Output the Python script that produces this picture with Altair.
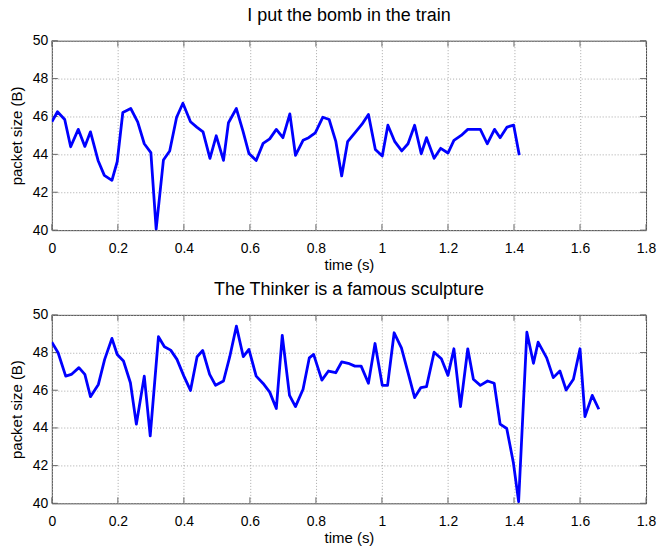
import altair as alt
import pandas as pd

# ---- data ----
top_t = [0.000, 0.017, 0.039, 0.057, 0.080, 0.100, 0.117, 0.140, 0.159, 0.182,
         0.198, 0.215, 0.239, 0.260, 0.280, 0.300, 0.316, 0.338, 0.357, 0.378,
         0.397, 0.420, 0.439, 0.458, 0.479, 0.498, 0.520, 0.535, 0.559, 0.579,
         0.597, 0.619, 0.640, 0.660, 0.680, 0.700, 0.721, 0.738, 0.761, 0.778,
         0.798, 0.821, 0.840, 0.860, 0.878, 0.896, 0.918, 0.939, 0.959, 0.980,
         1.001, 1.018, 1.039, 1.060, 1.079, 1.099, 1.119, 1.135, 1.158, 1.178,
         1.200, 1.218, 1.240, 1.260, 1.280, 1.298, 1.319, 1.341, 1.358, 1.379,
         1.399, 1.416]
top_v = [45.72, 46.25, 45.84, 44.40, 45.32, 44.42, 45.19, 43.68, 42.89, 42.63,
         43.61, 46.21, 46.42, 45.72, 44.56, 44.09, 40.05, 43.70, 44.18, 45.96,
         46.70, 45.72, 45.44, 45.19, 43.79, 44.98, 43.68, 45.67, 46.42, 45.23,
         44.05, 43.68, 44.58, 44.82, 45.32, 44.88, 46.14, 43.95, 44.74, 44.88,
         45.14, 45.96, 45.84, 44.70, 42.86, 44.67, 45.14, 45.58, 46.11, 44.26,
         43.91, 45.54, 44.67, 44.18, 44.56, 45.54, 44.03, 44.88, 43.79, 44.32,
         44.07, 44.74, 45.00, 45.32, 45.32, 45.32, 44.56, 45.32, 44.88, 45.44,
         45.54, 43.96]

bot_t = [0.000, 0.019, 0.042, 0.059, 0.082, 0.100, 0.117, 0.141, 0.160, 0.182,
         0.198, 0.217, 0.238, 0.256, 0.280, 0.298, 0.323, 0.341, 0.360, 0.379,
         0.400, 0.420, 0.440, 0.457, 0.478, 0.496, 0.520, 0.539, 0.559, 0.580,
         0.597, 0.619, 0.640, 0.660, 0.680, 0.698, 0.720, 0.738, 0.761, 0.780,
         0.793, 0.818, 0.838, 0.860, 0.878, 0.898, 0.918, 0.937, 0.959, 0.979,
         1.001, 1.017, 1.037, 1.059, 1.079, 1.099, 1.118, 1.135, 1.158, 1.180,
         1.200, 1.218, 1.238, 1.260, 1.277, 1.298, 1.320, 1.340, 1.358, 1.378,
         1.398, 1.414, 1.439, 1.459, 1.473, 1.499, 1.519, 1.539, 1.558, 1.580,
         1.600, 1.615, 1.637, 1.657]
bot_v = [48.55, 47.99, 46.75, 46.84, 47.20, 46.84, 45.66, 46.31, 47.64, 48.75,
         47.90, 47.55, 46.40, 44.20, 46.75, 43.58, 48.84, 48.31, 48.13, 47.64,
         46.75, 45.99, 47.78, 48.11, 46.84, 46.26, 46.49, 47.78, 49.40, 47.78,
         48.17, 46.75, 46.36, 45.90, 45.03, 48.91, 45.73, 45.13, 46.05, 47.72,
         47.90, 46.54, 47.02, 46.93, 47.50, 47.43, 47.28, 47.28, 46.37, 48.48,
         46.26, 46.26, 49.05, 48.25, 46.93, 45.61, 46.14, 46.19, 48.02, 47.67,
         46.79, 48.20, 45.13, 48.20, 46.58, 46.26, 46.49, 46.37, 44.20, 43.97,
         42.17, 40.09, 49.08, 47.43, 48.55, 47.72, 46.67, 47.02, 46.01, 46.58,
         48.20, 44.60, 45.73, 44.99]

x_ticks = [0, 0.2, 0.4, 0.6, 0.8, 1.0, 1.2, 1.4, 1.6, 1.8]
y_ticks = [40, 42, 44, 46, 48, 50]
x_domain = [0, 1.8]
y_domain = [40, 50]
titles = ["I put the bomb in the train", "The Thinker is a famous sculpture"]
x_title = "time (s)"
y_title = "packet size (B)"

W = 596
TL = 6  # inward tick length (px)
FONT = "Liberation Sans"


def panel(t, v, title, h):
    df = pd.DataFrame({"t": t, "v": v, "i": list(range(len(t)))})
    xs = alt.Scale(domain=x_domain, nice=False)
    ys = alt.Scale(domain=y_domain, nice=False)
    x_axis = alt.Axis(values=x_ticks, format="~g", labelPadding=11, titlePadding=2,
                      labelFlush=False)
    y_axis = alt.Axis(values=y_ticks, format="d", labelPadding=4, titlePadding=8,
                      labelFlush=False)
    xt = pd.DataFrame({"t": x_ticks})
    yt = pd.DataFrame({"v": y_ticks})
    tick_col = "#666666"

    def xe():
        return alt.X("t:Q", scale=xs, title=x_title, axis=x_axis)

    def ye():
        return alt.Y("v:Q", scale=ys, title=y_title, axis=y_axis)

    tb = alt.Chart(xt).mark_rule(color=tick_col).encode(
        x=xe(), y=alt.value(h - TL), y2=alt.value(h))
    tt = alt.Chart(xt).mark_rule(color=tick_col).encode(
        x=xe(), y=alt.value(0), y2=alt.value(TL))
    tl = alt.Chart(yt).mark_rule(color=tick_col).encode(
        y=ye(), x=alt.value(0), x2=alt.value(TL))
    tr = alt.Chart(yt).mark_rule(color=tick_col).encode(
        y=ye(), x=alt.value(W - TL), x2=alt.value(W))
    line = alt.Chart(df).mark_line(color="#0000ff", strokeWidth=2.8, clip=True,
                                   strokeJoin="round").encode(
        x=xe(), y=ye(), order="i:Q",
    )
    return alt.layer(tb, tt, tl, tr, line).properties(
        width=W, height=h,
        title=alt.TitleParams(title, fontSize=18, fontWeight="normal", font=FONT,
                              color="#000000", offset=9),
    )


chart = alt.vconcat(
    panel(top_t, top_v, titles[0], 190),
    panel(bot_t, bot_v, titles[1], 189),
    spacing=7,
).properties(
    padding={"left": 8, "top": 5, "right": 2, "bottom": 0},
    background="white",
).configure_view(
    stroke="#444444", strokeWidth=1
).configure_axis(
    grid=True, gridDash=[1, 2], gridColor="#a8a8a8", gridWidth=1,
    domain=False, ticks=False,
    labelFont=FONT, labelFontSize=14, labelColor="#000000",
    titleFont=FONT, titleFontSize=15, titleFontWeight="normal", titleColor="#000000",
)

chart.save("out.html", embed_options={"renderer": "svg", "actions": False})
